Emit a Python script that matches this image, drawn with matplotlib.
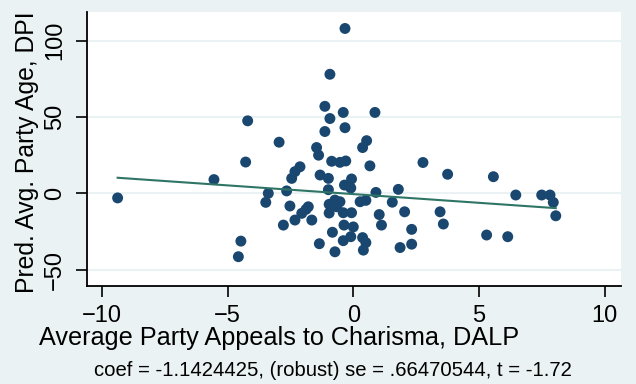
import numpy as np
import matplotlib
matplotlib.use("Agg")
from matplotlib import pyplot as plt

# charisma appeals (x) vs predicted party age (y), added-variable plot
charisma = [-0.33, -0.93, -1.13, -0.40, 0.86, -4.20, -0.93, -0.33, -1.13, -2.95,
            -1.46, 0.53, 0.37, -1.38, -4.28, -0.86, -0.53, -0.30, 0.66, -2.12,
            -2.32, -2.45, -1.32, -0.99, -0.07, -0.35, -0.10, -5.54, -9.37, -3.38,
            -3.48, -2.65, -0.99, 0.90, 2.77, 1.79, 1.55, 0.27, 0.50, -0.73,
            -0.53, -0.96, -0.66, -2.52, -1.88, -2.05, -2.32, -1.65, -0.96, -0.40,
            -0.07, 1.03, 1.12, 2.04, -2.78, -0.37, 0.00, -0.83, 2.32, -0.40,
            -0.10, 0.37, 0.50, 0.40, -1.35, -0.73, 1.86, 2.32, -4.47, -4.57,
            3.75, 5.57, 6.46, 7.49, 7.82, 7.95, 8.05, 5.30, 6.14, 3.45,
            3.58, -1.79]
party_age = [108.0, 78.0, 57.0, 53.0, 53.0, 47.5, 49.0, 43.0, 40.5, 33.5,
             30.0, 34.5, 30.0, 25.0, 20.5, 21.0, 20.3, 21.2, 18.0, 17.4,
             14.2, 9.8, 12.0, 9.8, 9.4, 5.4, 3.5, 9.0, -3.0, 0.0,
             -5.9, 1.6, 2.4, 0.6, 20.2, 2.6, -5.8, -5.5, -4.6, -4.4,
             -5.5, -7.2, -8.8, -8.3, -10.5, -13.1, -17.5, -17.5, -12.9, -12.7,
             -12.7, -13.9, -20.8, -12.1, -20.8, -20.8, -22.0, -25.5, -23.6, -31.0,
             -28.4, -29.0, -32.3, -37.2, -33.0, -38.3, -35.5, -33.3, -31.3, -41.5,
             12.5, 10.9, -1.1, -1.1, -1.1, -5.9, -14.7, -27.3, -28.4, -12.1,
             -20.1, -8.8]

coef = -1.1424425
intercept = -0.5
xticks = [-10, -5, 0, 5, 10]
yticks = [-50, 0, 50, 100]
note = "coef = -1.1424425, (robust) se = .66470544, t = -1.72"

bg = "#eaf2f3"
navy = "#1a476f"
teal = "#2f7566"

plt.rcParams['font.family'] = ['Liberation Sans', 'DejaVu Sans']

fig = plt.figure(figsize=(6.36, 3.84), dpi=100, facecolor=bg)
ax = fig.add_axes([0.1363, 0.256, 0.84, 0.712])
ax.set_facecolor("white")

for y in yticks:
    ax.axhline(y, color=bg, lw=1.5, zorder=0)

ax.scatter(charisma, party_age, s=62, color=navy, edgecolors="none", zorder=3)

xs = np.array([min(charisma), max(charisma)])
ax.plot(xs, intercept + coef * xs, color=teal, lw=1.5, zorder=4)

ax.set_xlim(-10.6, 10.64)
ax.set_ylim(-60.5, 118.6)
ax.set_xticks(xticks)
ax.set_yticks(yticks)
ax.tick_params(axis="both", direction="out", length=8, width=1.2,
               color="black", labelsize=17)
ax.tick_params(axis="x", pad=6)
ax.tick_params(axis="y", pad=7)
for lab in ax.get_yticklabels():
    lab.set_rotation(90)
    lab.set_va("center")

for side in ["top", "right"]:
    ax.spines[side].set_visible(False)
for side in ["left", "bottom"]:
    ax.spines[side].set_linewidth(1.3)
    ax.spines[side].set_color("black")

ax.set_xlabel("Average Party Appeals to Charisma, DALP", fontsize=18.2, va="center")
ax.xaxis.set_label_coords(0.36, -0.193)
ax.set_ylabel("Pred. Avg. Party Age, DPI", fontsize=17.8, va="center")
ax.yaxis.set_label_coords(-0.1117, 0.487)
fig.text(0.524, 0.036, note, fontsize=14.6, ha="center", va="center")

fig.savefig("out.png", dpi=100, facecolor=bg)
